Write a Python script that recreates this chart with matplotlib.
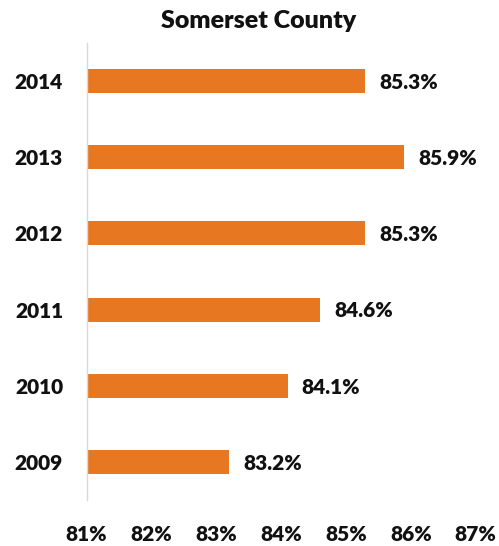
import matplotlib
matplotlib.use("Agg")
import matplotlib.pyplot as plt
from matplotlib.ticker import FuncFormatter

plt.rcParams['font.family'] = ['Lato', 'DejaVu Sans']

years = ["2009", "2010", "2011", "2012", "2013", "2014"]
rates = [83.2, 84.1, 84.6, 85.3, 85.9, 85.3]
x_ticks = [81, 82, 83, 84, 85, 86, 87]
title = "Somerset County"

bar_color = "#E87722"
text_color = "#111111"
weight = "heavy"

fig = plt.figure(figsize=(4.99, 5.46), dpi=100)
ax = fig.add_axes([0.1737, 0.0842, 0.7796, 0.8370])

ypos = list(range(len(years)))
base = x_ticks[0]
ax.barh(ypos, [r - base for r in rates], left=base, height=0.315,
        color=bar_color, edgecolor="none")

for y, r in zip(ypos, rates):
    ax.annotate(f"{r:.1f}%", xy=(r, y), xytext=(10, -1), textcoords="offset points",
                va="center", ha="left", fontsize=15, fontweight=weight, color=text_color)

ax.set_xlim(x_ticks[0], x_ticks[-1])
ax.set_ylim(-0.5, len(years) - 0.5)
ax.set_xticks(x_ticks)
ax.xaxis.set_major_formatter(FuncFormatter(lambda v, p: f"{v:.0f}%"))
ax.set_yticks(ypos)
ax.set_yticklabels(years)

for lbl in ax.get_xticklabels() + ax.get_yticklabels():
    lbl.set_fontweight(weight)
    lbl.set_fontsize(15)
    lbl.set_color(text_color)

ax.tick_params(axis="x", length=0, pad=18)
ax.tick_params(axis="y", length=0, pad=17)

for side in ("top", "right", "bottom"):
    ax.spines[side].set_visible(False)
ax.spines["left"].set_color("#D9D9D9")
ax.spines["left"].set_linewidth(1.0)

fig.text(0.519, 0.962, title, ha="center", va="center", fontsize=18,
         fontweight=weight, color=text_color)

fig.savefig("out.png", dpi=100, facecolor="white")
